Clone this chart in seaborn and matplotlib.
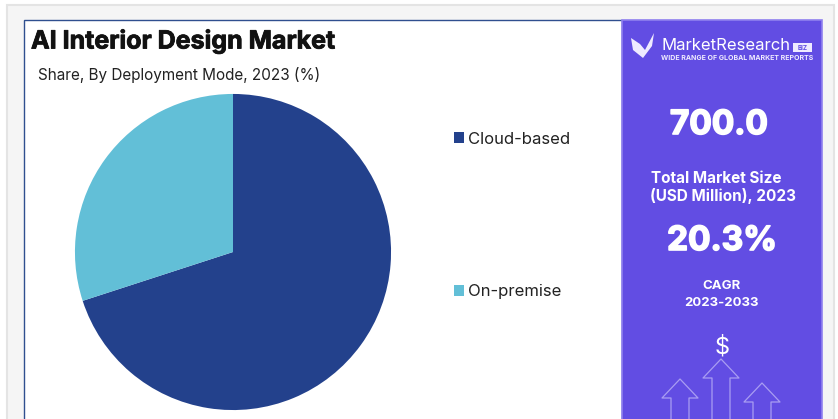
import matplotlib
matplotlib.use("Agg")
from matplotlib import pyplot as plt
from matplotlib.patches import Rectangle, Polygon, Patch
from matplotlib import patheffects as pe
import seaborn as sns

sns.set_theme(style="white")
plt.rcParams['font.family'] = ['Inter', 'DejaVu Sans']

# data
modes = ["Cloud-based", "On-premise"]
shares = [70, 30]
colors = ["#23418C", "#62BFD7"]
title = "AI Interior Design Market"
subtitle = "Share, By Deployment Mode, 2023 (%)"

W, H = 838, 419
fig = plt.figure(figsize=(W / 100, H / 100), dpi=100, facecolor="white")

# background layer in pixel coords
bg = fig.add_axes([0, 0, 1, 1], zorder=0)
bg.set_xlim(0, W)
bg.set_ylim(H, 0)
bg.axis("off")
bg.add_patch(Rectangle((7, 5), 827, 420, fc="#F5F5F5", ec="#E4E4E4", lw=1.5))
bg.add_patch(Rectangle((24, 20), 598, 405, fc="white", ec="#2F4F8F", lw=1))
bg.add_patch(Rectangle((622, 20), 200, 405, fc="#624DE3", ec="#8F80EE", lw=1.2))

# pie
ax = fig.add_axes([(233 - 159) / W, 1 - (252 + 159) / H, 318 / W, 318 / H], zorder=1)
wedges, _ = ax.pie(shares, colors=colors, startangle=90, counterclock=False, radius=1.0,
                   wedgeprops={"linewidth": 0, "edgecolor": "none"})
ax.set_xlim(-1.006, 1.006)
ax.set_ylim(-1.006, 1.006)

leg_handles = [Patch(fc=c, ec="none") for c in colors]
fig.legend(leg_handles, modes, loc="upper left", bbox_to_anchor=(453.5 / W, 1 - 131.5 / H),
           frameon=False, fontsize=12, labelspacing=8.25, handlelength=0.62, handleheight=0.62,
           handletextpad=0.27, labelcolor="#222222", borderpad=0, borderaxespad=0)

# top layer for text
top = fig.add_axes([0, 0, 1, 1], zorder=2)
top.set_xlim(0, W)
top.set_ylim(H, 0)
top.axis("off")
top.patch.set_alpha(0)

t = top.text(31, 41, title, fontsize=18, fontweight="bold", color="#111111", va="center", ha="left")
t.set_path_effects([pe.withStroke(linewidth=0.6, foreground="#111111")])
top.text(38, 75, subtitle, fontsize=11, color="#222222", va="center", ha="left")


def side(x, y, s, size, weight="bold"):
    t = top.text(x, y, s, fontsize=size, fontweight=weight, color="white", ha="center", va="center")
    return t


# big numbers have a soft dark edge in the original
big = [pe.withStroke(linewidth=1.2, foreground="white")]
t = side(719, 125, "700.0", 24)
t.set_path_effects(big)
side(716, 178, "Total Market Size", 11)
side(723, 196, "(USD Million), 2023", 11)
t = side(722, 241, "20.3%", 24)
t.set_path_effects(big)
side(721, 286, "CAGR", 9.5)
side(721, 303, "2023-2033", 9.5)
side(722, 347, "$", 17, "normal")

# logo
top.add_patch(Polygon([(631, 38), (640, 44), (645, 50), (654, 33), (652, 46), (643, 58), (633, 50)],
                      fc="#EFEBFF", ec="none"))
top.text(661, 46, "MarketResearch", fontsize=12, color="white", va="center", ha="left")
top.add_patch(Rectangle((793, 43), 19, 9, fc="#EFEBFF", ec="none"))
top.text(802.5, 47.5, "BIZ", fontsize=4.5, fontweight="bold", color="#624DE3", ha="center", va="center")
top.text(661, 58, "WIDE RANGE OF GLOBAL MARKET REPORTS", fontsize=5, fontweight="bold",
         color="#EFEBFF", va="center", ha="left")

# arrows icon
for cx, tip in [(680, 379), (721, 359), (762, 383)]:
    xs = [cx - 9, cx - 9, cx - 18, cx, cx + 18, cx + 9, cx + 9]
    ys = [425, tip + 19, tip + 19, tip, tip + 19, tip + 19, 425]
    top.plot(xs, ys, color="#A99DF2", lw=0.9)

fig.savefig("out.png", dpi=100)
